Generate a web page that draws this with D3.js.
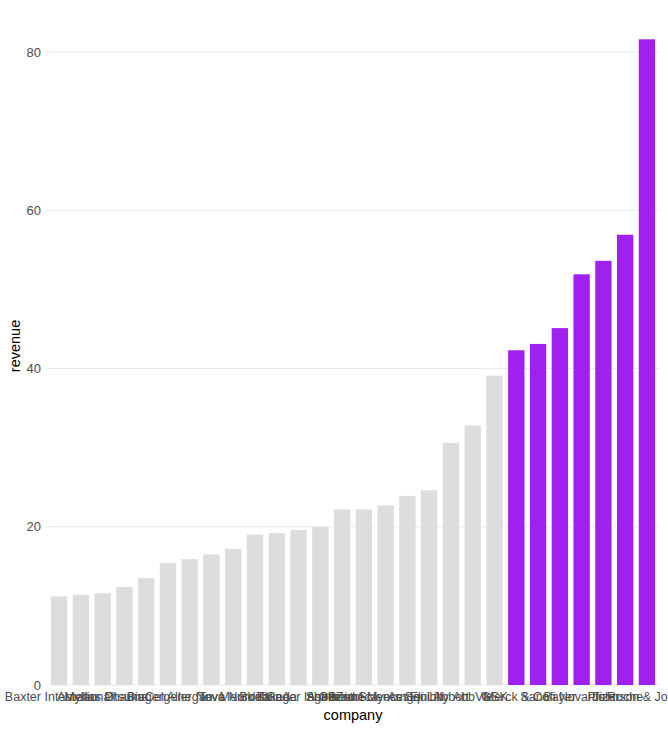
<!DOCTYPE html>
<html>
<head>
<meta charset="utf-8">
<script src="https://cdn.jsdelivr.net/npm/d3@7"></script>
<style>
  body { margin: 0; background: #ffffff; }
  text { font-family: "Liberation Sans", Arial, sans-serif; }
</style>
</head>
<body>
<div id="chart"></div>
<script>
// companies sorted by revenue (ascending)
var companies = ["Baxter International", "Mylan", "Astellas Pharma", "Otsuka", "Biogen",
  "Celgene", "Allergan", "Teva", "Novo Nordisk", "Merck KGaA", "Takeda",
  "Boehringer Ingelheim", "Shire", "AstraZeneca", "Gilead Sciences",
  "Bristol-Myers Squibb", "Amgen", "Eli Lilly", "Abbott", "AbbVie", "GSK",
  "Merck & Co", "Sanofi", "Bayer", "Novartis", "Pfizer", "Roche", "Johnson & Johnson"];
var revenue = [11.2, 11.4, 11.6, 12.4, 13.5, 15.4, 15.9, 16.5, 17.2, 19.0, 19.2,
  19.6, 20.0, 22.2, 22.2, 22.7, 23.9, 24.6, 30.6, 32.8, 39.1,
  42.3, 43.1, 45.1, 51.9, 53.6, 56.9, 81.6];
var yTicks = [0, 20, 40, 60, 80];
var highlightAbove = 40;

drawBarChart();

function drawBarChart()
{
  var width = 668, height = 730;
  var plotLeft = 46, plotRight = 660, plotTop = 7, plotBottom = 685;

  var svg = d3.select("#chart").append("svg")
    .attr("width", width)
    .attr("height", height);

  var data = companies.map(function(c, i) { return {company: c, revenue: revenue[i]}; });

  var x = d3.scaleBand()
    .domain(companies)
    .range([plotLeft, plotRight])
    .paddingInner(0.25)
    .paddingOuter(0.225);

  var yMax = d3.max(revenue) * 1.05;
  var y = d3.scaleLinear()
    .domain([0, yMax])
    .range([plotBottom, plotTop]);

  // gridlines
  svg.append("g")
    .selectAll("line")
    .data(yTicks)
    .enter().append("line")
    .attr("x1", plotLeft)
    .attr("x2", plotRight)
    .attr("y1", function(d) { return y(d); })
    .attr("y2", function(d) { return y(d); })
    .attr("stroke", "#ebebeb")
    .attr("stroke-width", 1);

  // bars
  svg.append("g")
    .selectAll("rect")
    .data(data)
    .enter().append("rect")
    .attr("x", function(d) { return x(d.company); })
    .attr("width", x.bandwidth())
    .attr("y", function(d) { return y(d.revenue); })
    .attr("height", function(d) { return y(0) - y(d.revenue); })
    .attr("fill", function(d) { return d.revenue > highlightAbove ? "#a020f0" : "#dddddd"; });

  // y axis
  var yAxis = svg.append("g")
    .attr("transform", "translate(" + (plotLeft - 5) + ",0)")
    .call(d3.axisLeft(y).tickValues(yTicks).tickSize(0).tickPadding(0));
  yAxis.select(".domain").remove();
  yAxis.selectAll("text")
    .attr("fill", "#4d4d4d")
    .style("font-size", "13px");

  // x axis
  var xAxis = svg.append("g")
    .attr("transform", "translate(0," + (plotBottom + 4) + ")")
    .call(d3.axisBottom(x).tickSize(0).tickPadding(3));
  xAxis.select(".domain").remove();
  xAxis.selectAll("text")
    .attr("fill", "#4d4d4d")
    .style("font-size", "12.5px");

  // axis titles
  svg.append("text")
    .attr("x", (plotLeft + plotRight) / 2)
    .attr("y", 720)
    .attr("text-anchor", "middle")
    .style("font-size", "14.5px")
    .attr("fill", "#000000")
    .text("company");

  svg.append("text")
    .attr("transform", "translate(20," + ((plotTop + plotBottom) / 2) + ") rotate(-90)")
    .attr("text-anchor", "middle")
    .style("font-size", "14.5px")
    .attr("fill", "#000000")
    .text("revenue");
}
</script>
</body>
</html>
